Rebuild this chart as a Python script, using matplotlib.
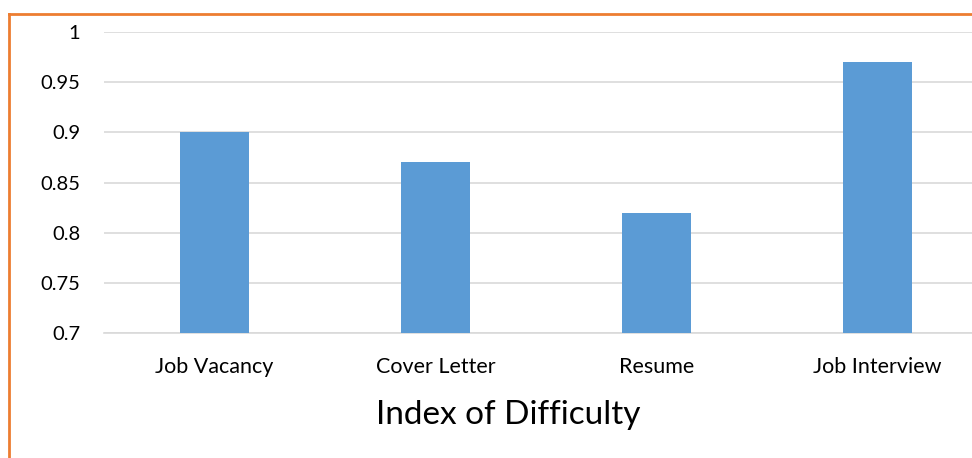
import matplotlib
matplotlib.use("Agg")
import matplotlib.pyplot as plt
from matplotlib.lines import Line2D

categories = ["Job Vacancy", "Cover Letter", "Resume", "Job Interview"]
values = [0.90, 0.87, 0.82, 0.97]
yticks = [0.7, 0.75, 0.8, 0.85, 0.9, 0.95, 1.0]
ytick_labels = ["0.7", "0.75", "0.8", "0.85", "0.9", "0.95", "1"]

plt.rcParams['font.family'] = ['Lato', 'DejaVu Sans']

fig = plt.figure(figsize=(9.72, 4.58), dpi=100)
ax = fig.add_axes([104/972, 1-333/458, 884/972, (333-32)/458])
ax.bar(range(len(categories)), values, width=0.31, color="#5B9BD5", zorder=3)
ax.set_xlim(-0.5, 3.5)
ax.set_ylim(0.7, 1.0)
ax.set_yticks(yticks)
ax.set_yticklabels(ytick_labels, fontsize=14.5)
ax.set_xticks(range(len(categories)))
ax.set_xticklabels(categories, fontsize=15.5)
ax.yaxis.grid(True, color="#D9D9D9", linewidth=1.2, zorder=0)
for s in ["top", "right", "left"]:
    ax.spines[s].set_visible(False)
ax.spines["bottom"].set_color("#D9D9D9")
ax.spines["bottom"].set_linewidth(1.2)
ax.tick_params(axis="both", length=0)
ax.tick_params(axis="y", pad=17)
ax.tick_params(axis="x", pad=17)

fig.text(508/972, 1-415/458, "Index of Difficulty", fontsize=24, ha="center", va="center")

# orange frame (top and left edges visible)
fig.add_artist(Line2D([9/972, 1.0], [1-14/458, 1-14/458], color="#ED7D31", linewidth=2, transform=fig.transFigure))
fig.add_artist(Line2D([9/972, 9/972], [0, 1-14/458], color="#ED7D31", linewidth=2, transform=fig.transFigure))

fig.savefig("out.png", dpi=100)
